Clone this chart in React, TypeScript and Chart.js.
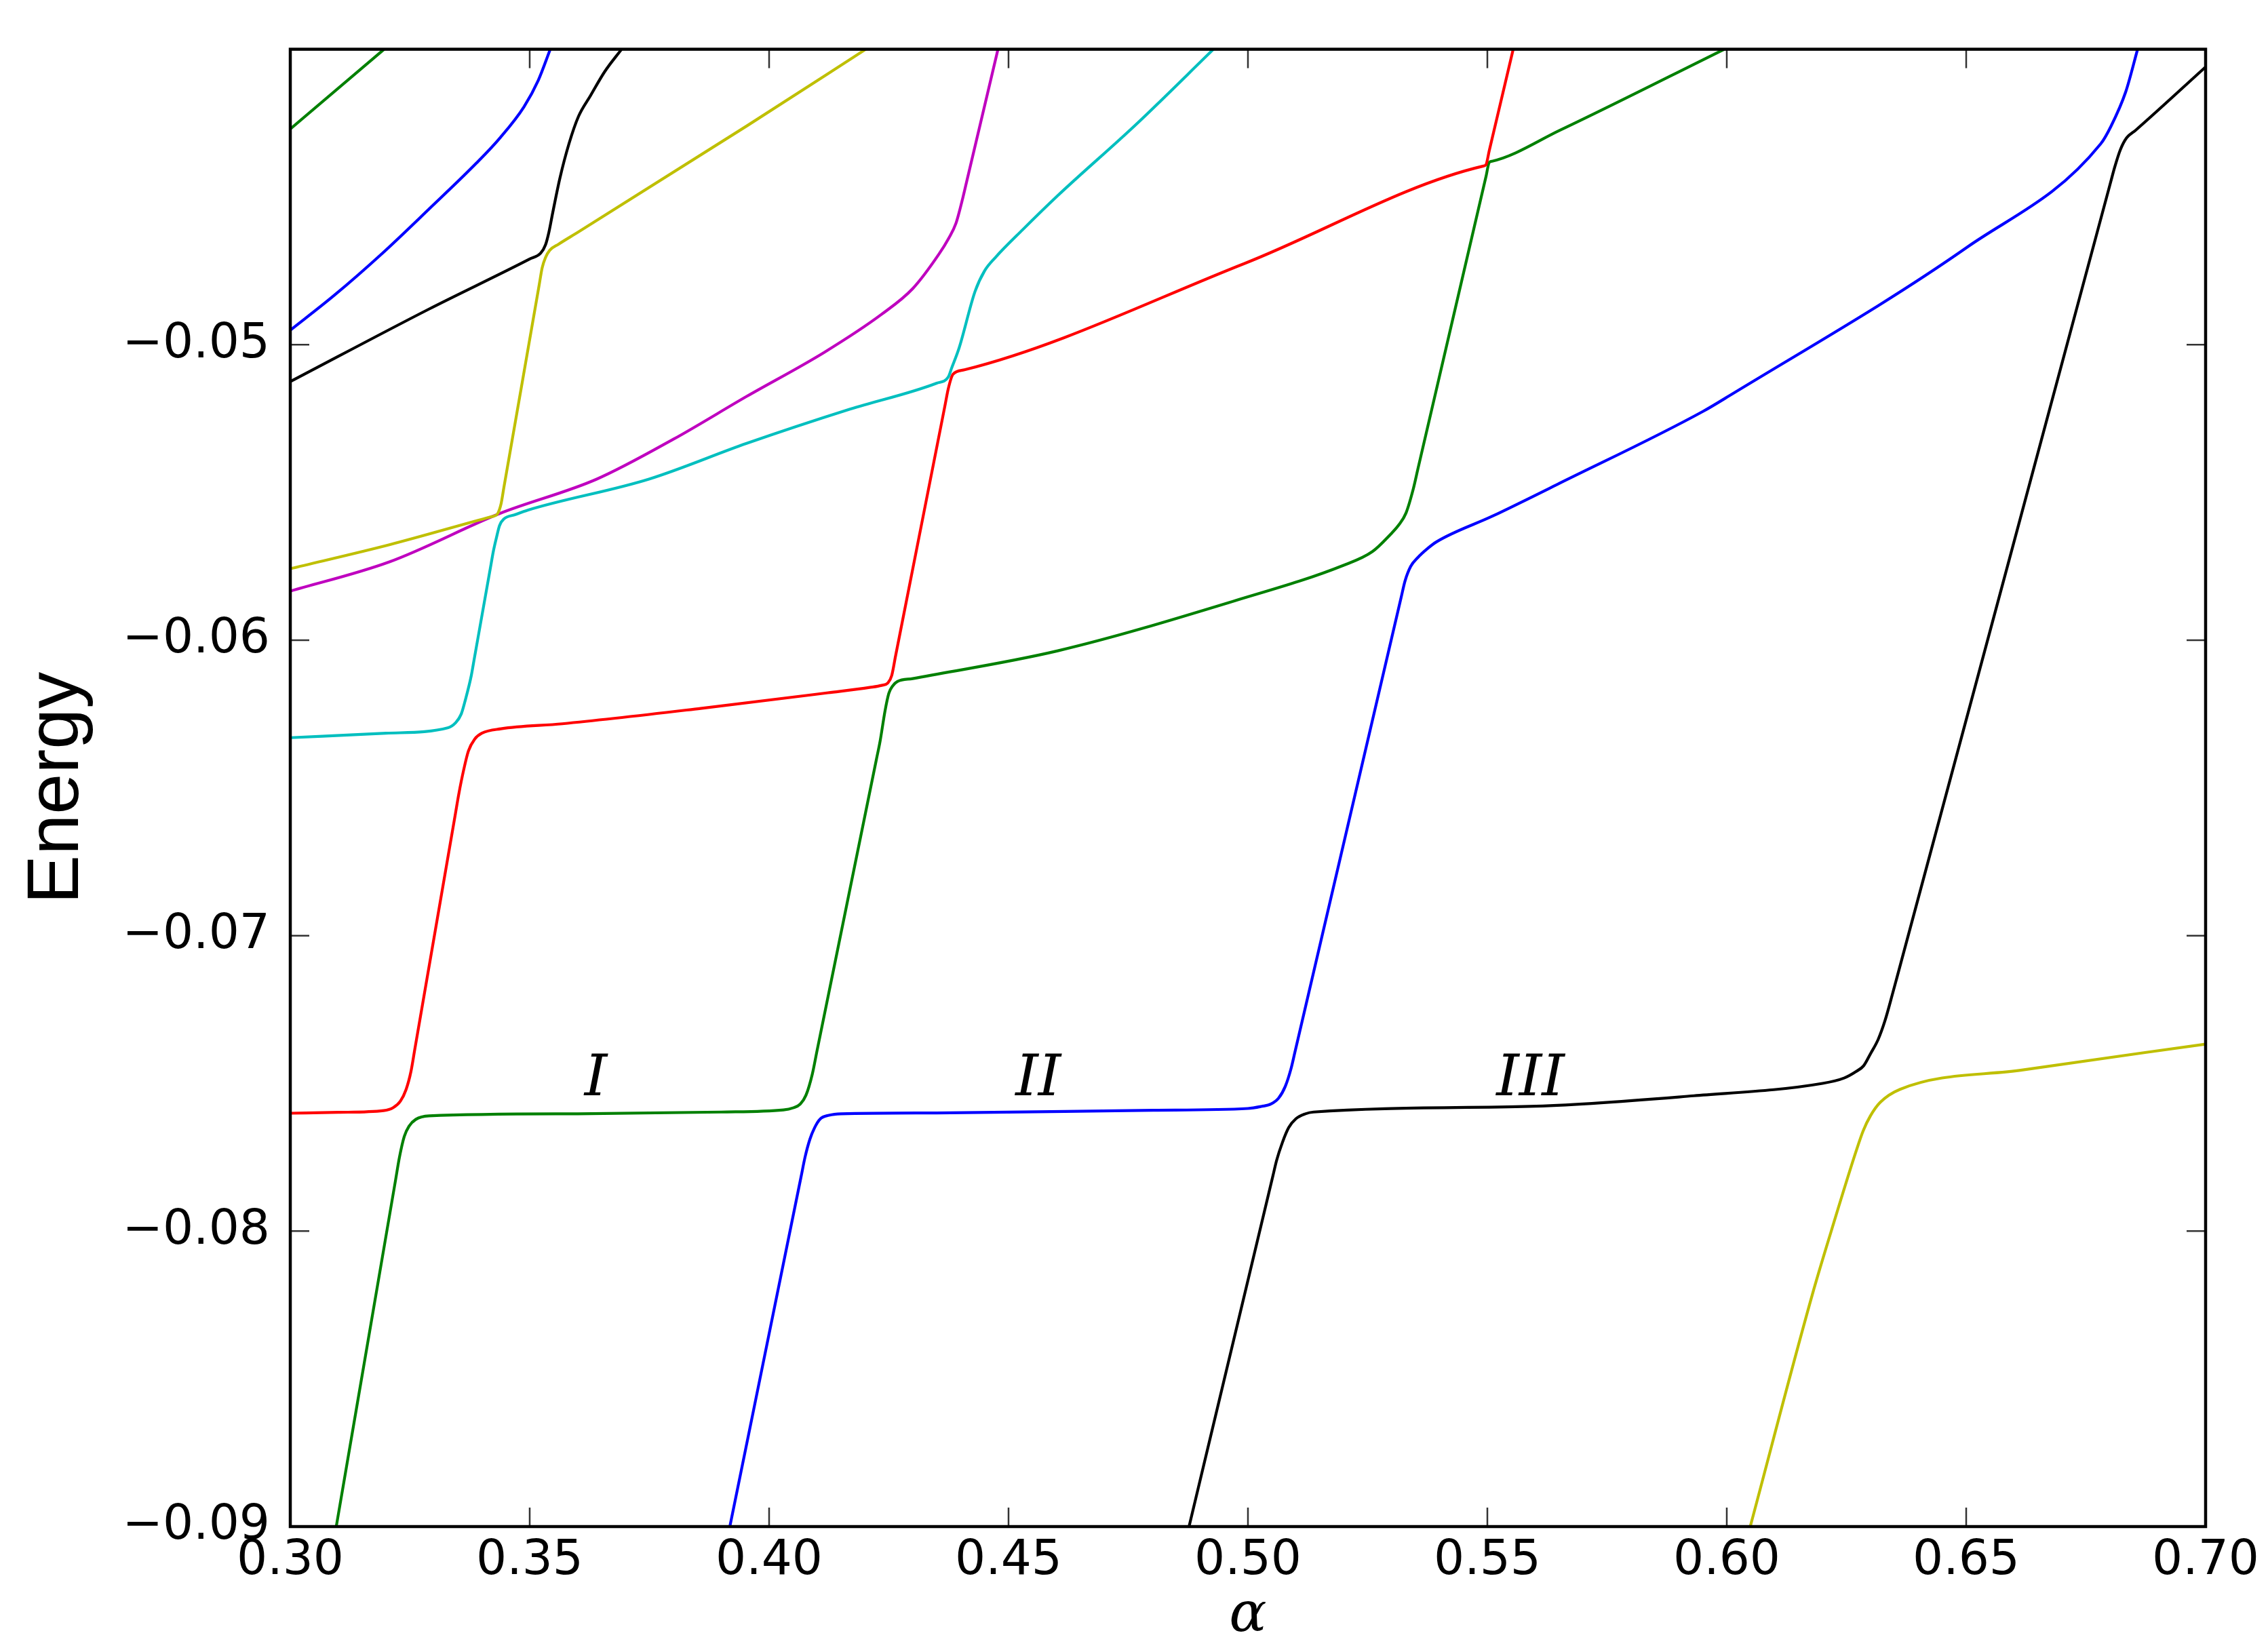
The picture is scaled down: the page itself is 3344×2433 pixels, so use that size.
import React, { useEffect, useRef } from "react";
import { Chart, registerables } from "chart.js";

Chart.register(...registerables);

// ---- axis ticks ----
const X_TICKS = [0.3, 0.35, 0.4, 0.45, 0.5, 0.55, 0.6, 0.65, 0.7];
const Y_TICKS = [-0.09, -0.08, -0.07, -0.06, -0.05, -0.04];

// ---- region labels ----
const REGION_TEXT = ["I", "II", "III"];
const REGION_ALPHA = [0.3638, 0.4562, 0.559];
const REGION_ENERGY = -0.0754;

// ---- colours (classic matplotlib cycle) ----
const C_B = "#0000ff";
const C_G = "#008000";
const C_R = "#ff0000";
const C_C = "#00bfbf";
const C_M = "#bf00bf";
const C_Y = "#bfbf00";
const C_K = "#000000";

// ---- curves: [alpha, energy] ----
const greenLow: [number, number][] = [
  [0.3096, -0.09], [0.322, -0.07826], [0.3228, -0.0775], [0.3238, -0.0768], [0.3248, -0.07645],
  [0.3262, -0.07622], [0.329, -0.0761], [0.36, -0.07603], [0.39, -0.07597], [0.403, -0.0759],
  [0.405, -0.07583], [0.4065, -0.0757], [0.4077, -0.0754], [0.409, -0.0747], [0.41, -0.0739],
  [0.4224, -0.06404], [0.4232, -0.0634], [0.4242, -0.0624], [0.425, -0.0618], [0.4258, -0.06155],
  [0.4268, -0.0614], [0.43, -0.0613], [0.4603, -0.06036], [0.4972, -0.05867], [0.5199, -0.05747],
  [0.526, -0.057], [0.5297, -0.05643], [0.5315, -0.0561], [0.533, -0.0557], [0.5345, -0.0549],
  [0.5355, -0.0542], [0.5497, -0.04432], [0.5504, -0.04383], [0.551, -0.04379], [0.5652, -0.04274],
  [0.5995, -0.04],
];

const redLow: [number, number][] = [
  [0.3, -0.07601], [0.31, -0.07598], [0.3195, -0.07592], [0.3215, -0.07582], [0.323, -0.0756],
  [0.3242, -0.0752], [0.3252, -0.0746], [0.326, -0.07385], [0.3345, -0.06586], [0.3352, -0.0652],
  [0.3362, -0.0644], [0.3372, -0.06375], [0.3385, -0.06335], [0.34, -0.06315], [0.344, -0.063],
  [0.3568, -0.06283], [0.3857, -0.06231], [0.4123, -0.06178], [0.421, -0.0616], [0.4235, -0.06153],
  [0.4248, -0.06145], [0.4256, -0.0612], [0.4264, -0.06054], [0.436, -0.05266], [0.4368, -0.052],
  [0.4374, -0.0515], [0.4384, -0.051], [0.4408, -0.05085], [0.4993, -0.04725], [0.549, -0.04396],
  [0.5497, -0.04391], [0.5504, -0.04343], [0.5554, -0.04],
];

const cyanMid: [number, number][] = [
  [0.3, -0.0633], [0.32, -0.06315], [0.333, -0.06296], [0.3345, -0.0628], [0.3357, -0.0625],
  [0.3366, -0.062], [0.3378, -0.0612], [0.3384, -0.06065], [0.3418, -0.05755], [0.3424, -0.057],
  [0.3431, -0.0565], [0.3437, -0.05612], [0.3446, -0.0559], [0.347, -0.05575], [0.3496, -0.0556],
  [0.3749, -0.05455], [0.3953, -0.05334], [0.4169, -0.05218], [0.435, -0.0513], [0.4374, -0.0511],
  [0.4381, -0.0508], [0.4397, -0.0501], [0.443, -0.0482], [0.445, -0.0475], [0.4473, -0.04704],
  [0.453, -0.0461], [0.4603, -0.04495], [0.4766, -0.04255], [0.4928, -0.04],
];

const magentaMid: [number, number][] = [
  [0.3, -0.05834], [0.3207, -0.05735], [0.3438, -0.05571], [0.364, -0.05455], [0.38, -0.0532],
  [0.3953, -0.05175], [0.4116, -0.05025], [0.4235, -0.04897], [0.43, -0.0481], [0.4354, -0.04695],
  [0.4375, -0.0464], [0.439, -0.0459], [0.4405, -0.045], [0.4413, -0.04445], [0.4478, -0.04],
];

const yellowUp: [number, number][] = [
  [0.3, -0.05758], [0.3207, -0.05677], [0.3418, -0.05583], [0.3425, -0.0558], [0.3433, -0.05572],
  [0.344, -0.0554], [0.3446, -0.05484], [0.352, -0.04796], [0.3526, -0.0474], [0.3533, -0.04705],
  [0.3542, -0.0468], [0.356, -0.0466], [0.36, -0.0462], [0.3953, -0.0426], [0.4202, -0.04],
];

const blackUp: [number, number][] = [
  [0.3, -0.05125], [0.3289, -0.0488], [0.35, -0.0471], [0.3523, -0.0469], [0.3533, -0.04662],
  [0.354, -0.0462], [0.3548, -0.04554], [0.3563, -0.04437], [0.3582, -0.0432], [0.3602, -0.04227],
  [0.3627, -0.04157], [0.3657, -0.04075], [0.3692, -0.04],
];

const blueUp: [number, number][] = [
  [0.3, -0.04951], [0.3091, -0.04834], [0.319, -0.04694], [0.3289, -0.04542], [0.3389, -0.04385],
  [0.3438, -0.043], [0.3488, -0.04195], [0.3518, -0.04105], [0.3543, -0.04],
];

const greenUp: [number, number][] = [
  [0.3, -0.0427], [0.3196, -0.04],
];

const blueMid: [number, number][] = [
  [0.3918, -0.09], [0.4067, -0.07814], [0.4075, -0.0775], [0.4085, -0.0769], [0.4095, -0.0765],
  [0.4107, -0.0762], [0.4125, -0.07608], [0.415, -0.07603], [0.4349, -0.076], [0.4803, -0.07591],
  [0.5, -0.07585], [0.5028, -0.07578], [0.5048, -0.0757], [0.5064, -0.0755], [0.5078, -0.0751],
  [0.509, -0.0745], [0.5098, -0.07395], [0.532, -0.05855], [0.5328, -0.058], [0.534, -0.0575],
  [0.5355, -0.0572], [0.5375, -0.0569], [0.5394, -0.05667], [0.5511, -0.0558], [0.5652, -0.05468],
  [0.595, -0.05226], [0.6006, -0.05172], [0.6502, -0.0467], [0.6781, -0.0432], [0.6802, -0.04262],
  [0.6833, -0.04145], [0.6858, -0.04],
];

const blackLow: [number, number][] = [
  [0.4877, -0.09], [0.497, -0.0837], [0.5052, -0.07814], [0.506, -0.0776], [0.5072, -0.077],
  [0.5085, -0.0765], [0.51, -0.0762], [0.512, -0.07603], [0.5137, -0.07597], [0.5588, -0.07578],
  [0.5931, -0.07542], [0.62, -0.075], [0.6245, -0.07482], [0.627, -0.0746],
  [0.6286, -0.0744], [0.63, -0.074], [0.6316, -0.07352], [0.633, -0.0729], [0.6347, -0.07192],
  [0.6355, -0.07144], [0.6802, -0.04448], [0.681, -0.044], [0.6822, -0.0434], [0.6835, -0.043],
  [0.6854, -0.04274], [0.7, -0.0406],
];

const yellowLow: [number, number][] = [
  [0.6049, -0.09], [0.6179, -0.08213], [0.6218, -0.08001], [0.627, -0.0773], [0.6285, -0.0766],
  [0.63, -0.0761], [0.632, -0.07565], [0.6362, -0.0752], [0.6621, -0.07454], [0.7, -0.07367],
];

const SERIES: { pts: [number, number][]; color: string }[] = [
  { pts: blueUp, color: C_B },
  { pts: greenUp, color: C_G },
  { pts: blackUp, color: C_K },
  { pts: yellowUp, color: C_Y },
  { pts: magentaMid, color: C_M },
  { pts: cyanMid, color: C_C },
  { pts: redLow, color: C_R },
  { pts: greenLow, color: C_G },
  { pts: blueMid, color: C_B },
  { pts: blackLow, color: C_K },
  { pts: yellowLow, color: C_Y },
];

const framePlugin = {
  id: "mplFrame",
  afterDatasetsDraw(chart: any) {
    const { ctx, chartArea: a, scales } = chart;
    const xs = scales.x;
    const ys = scales.y;
    ctx.save();
    // inward tick marks on all four sides
    ctx.strokeStyle = "#333333";
    ctx.lineWidth = 2.5;
    const L = 28;
    ctx.beginPath();
    for (const v of X_TICKS) {
      const px = xs.getPixelForValue(v);
      ctx.moveTo(px, a.bottom);
      ctx.lineTo(px, a.bottom - L);
      ctx.moveTo(px, a.top);
      ctx.lineTo(px, a.top + L);
    }
    for (const v of Y_TICKS) {
      const py = ys.getPixelForValue(v);
      ctx.moveTo(a.left, py);
      ctx.lineTo(a.left + L, py);
      ctx.moveTo(a.right, py);
      ctx.lineTo(a.right - L, py);
    }
    ctx.stroke();
    // region labels
    ctx.fillStyle = "#000";
    ctx.font = 'italic 85px "DejaVu Serif"';
    ctx.textAlign = "center";
    ctx.textBaseline = "alphabetic";
    REGION_TEXT.forEach((t, i) => {
      ctx.fillText(t, xs.getPixelForValue(REGION_ALPHA[i]), ys.getPixelForValue(REGION_ENERGY));
    });
    // frame
    ctx.strokeStyle = "#000";
    ctx.lineWidth = 4.5;
    ctx.strokeRect(a.left, a.top, a.right - a.left, a.bottom - a.top);
    ctx.restore();
  },
};

export default function App() {
  const ref = useRef<HTMLCanvasElement>(null);
  useEffect(() => {
    document.body.style.margin = "0";
    document.body.style.overflow = "hidden";
    const canvas = ref.current!;
    const chart = new Chart(canvas, {
      type: "line",
      data: {
        datasets: SERIES.map((s) => ({
          data: s.pts.map(([x, y]) => ({ x, y })),
          borderColor: s.color,
          backgroundColor: s.color,
          borderWidth: 4.2,
          borderJoinStyle: "round" as const,
          borderCapStyle: "round" as const,
          pointRadius: 0,
          fill: false,
          cubicInterpolationMode: "monotone" as const,
          clip: 0,
        })),
      },
      options: {
        animation: false,
        responsive: false,
        devicePixelRatio: 1,
        layout: { padding: { top: 64, right: 92, left: 0, bottom: 0 } },
        plugins: { legend: { display: false }, tooltip: { enabled: false } },
        scales: {
          x: {
            type: "linear",
            min: 0.3,
            max: 0.7,
            afterFit: (s: any) => {
              s.height = 182;
            },
            grid: { display: false, drawTicks: false },
            border: { display: false },
            ticks: {
              stepSize: 0.05,
              autoSkip: false,
              maxRotation: 0,
              padding: 9,
              color: "#000",
              font: { family: '"DejaVu Sans"', size: 71 },
              callback: (v: any) => Number(v).toFixed(2),
            },
            title: {
              display: true,
              text: "α",
              color: "#000",
              font: { family: '"DejaVu Serif"', style: "italic", size: 82, lineHeight: 1 },
              padding: { top: 0, bottom: 8 },
            },
          },
          y: {
            type: "linear",
            min: -0.09,
            max: -0.04,
            afterFit: (s: any) => {
              s.width = 428;
            },
            grid: { display: false, drawTicks: false },
            border: { display: false },
            ticks: {
              stepSize: 0.01,
              padding: 30,
              color: "#000",
              font: { family: '"DejaVu Sans"', size: 71 },
              callback: (v: any) =>
                Math.abs(Number(v) + 0.04) < 1e-9 ? "" : "\u2212" + Math.abs(Number(v)).toFixed(2),
            },
            title: {
              display: true,
              text: "Energy",
              color: "#000",
              font: { family: '"Liberation Sans"', size: 108, lineHeight: 1 },
              padding: { top: 31, bottom: 0 },
            },
          },
        },
      },
      plugins: [framePlugin],
    });
    return () => chart.destroy();
  }, []);
  return (
    <canvas
      ref={ref}
      width={3344}
      height={2433}
      style={{ display: "block", width: "3344px", height: "2433px" }}
    />
  );
}
